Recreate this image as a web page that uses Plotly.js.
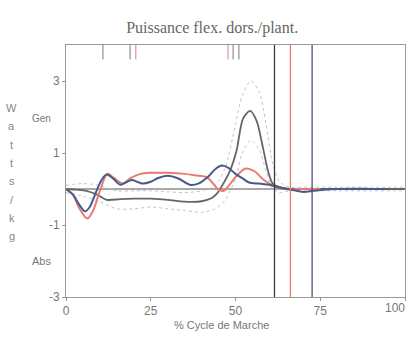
<!DOCTYPE html>
<html>
<head>
<meta charset="utf-8">
<script src="https://cdn.plot.ly/plotly-3.0.1.min.js"></script>
<style>html,body{margin:0;padding:0;background:#fff;}#chart{width:408px;height:337px;}</style>
</head>
<body>
<div id="chart"></div>
<script>
// Blue (patient, side 1)
const blueX = [0, 2, 4, 5.6, 7, 9, 10.5, 12, 14, 16, 18, 19.5, 21, 22.5, 25, 27, 30, 33, 36.5, 39, 42, 44, 46, 48, 50, 52, 54, 57, 60, 61.5, 64, 67, 70, 73, 76, 80, 85, 90, 95];
const blueY = [0, -0.15, -0.45, -0.62, -0.5, -0.05, 0.25, 0.4, 0.28, 0.12, 0.2, 0.25, 0.2, 0.15, 0.2, 0.3, 0.37, 0.3, 0.12, 0.15, 0.35, 0.55, 0.65, 0.58, 0.42, 0.3, 0.18, 0.15, 0.12, 0.08, 0.02, -0.03, -0.08, -0.05, -0.02, 0, 0.01, 0, 0];
// Red (patient, side 2)
const redX = [0, 2, 4, 6.3, 8, 10, 12.2, 14, 16.8, 19, 22, 25, 30, 35, 38, 41.5, 43.4, 45, 46.5, 48.5, 50.5, 53, 55.5, 58, 60, 62, 65, 70, 75];
const redY = [0, -0.15, -0.55, -0.82, -0.6, -0.05, 0.42, 0.32, 0.15, 0.3, 0.42, 0.45, 0.45, 0.42, 0.38, 0.33, 0.15, -0.02, -0.05, 0.15, 0.38, 0.57, 0.5, 0.28, 0.15, 0.05, 0, 0, 0];
// Normal mean
const normX = [0, 3, 6, 9, 12, 16, 20, 25, 30, 35, 40, 43, 44.5, 46.4, 48.4, 50.3, 52.2, 54.3, 56.2, 58.1, 59.6, 61, 63, 66, 70, 75, 80, 90, 100];
const normY = [0, -0.02, -0.05, -0.15, -0.3, -0.28, -0.27, -0.27, -0.3, -0.35, -0.34, -0.25, -0.13, 0.15, 0.51, 1.06, 1.95, 2.17, 1.9, 1.15, 0.5, 0.15, 0.05, 0, 0, 0, 0, 0, 0];
// Normal band (upper / lower)
const bandX = [0, 5, 10, 15, 20, 25, 30, 35, 40, 44, 47, 50, 52, 54.5, 57, 59, 61, 63, 66, 70, 80, 90, 100];
const bandUpper = [0.1, 0.15, 0.1, -0.05, -0.05, -0.05, -0.08, -0.1, -0.05, 0.1, 0.6, 1.8, 2.6, 3.0, 2.7, 1.8, 0.7, 0.2, 0.05, 0.05, 0.05, 0.05, 0.05];
const bandLower = [-0.1, -0.2, -0.35, -0.55, -0.55, -0.5, -0.55, -0.6, -0.65, -0.55, -0.3, 0.3, 1.0, 1.35, 1.1, 0.5, 0.0, -0.1, -0.05, -0.05, -0.05, -0.05, -0.05];
// Event markers
const toeOffX = [61.5, 66.2, 72.6];
const toeOffColors = ['#3a3a3a', '#e87a72', '#4a5578'];
const footEventX = [10.9, 18.9, 20.6, 47.8, 49.3, 51];
const footEventColors = ['#777', '#777', '#e87a72', '#e87a72', '#777', '#777'];
const xTicks = [0, 25, 50, 75, 100];
const yTicks = [-3, -1, 1, 3];
const yLetters = ['W', 'a', 't', 't', 's', '/', 'k', 'g'];

const traces = [
  {x: bandX, y: bandUpper, mode: 'lines', line: {color: '#c4c4c4', width: 1, dash: 'dot', shape: 'spline', smoothing: 0.8}, hoverinfo: 'skip'},
  {x: bandX, y: bandLower, mode: 'lines', line: {color: '#c4c4c4', width: 1, dash: 'dot', shape: 'spline', smoothing: 0.8}, hoverinfo: 'skip'},
  {x: normX, y: normY, mode: 'lines', line: {color: '#666666', width: 1.8, shape: 'spline', smoothing: 0.8}},
  {x: redX, y: redY, mode: 'lines', line: {color: '#e87a72', width: 2, shape: 'spline', smoothing: 0.9}},
  {x: blueX, y: blueY, mode: 'lines', line: {color: '#4a5a88', width: 2, shape: 'spline', smoothing: 0.9}}
];

const shapes = [
  {type: 'line', xref: 'x', yref: 'y', x0: 0, x1: 100, y0: 0, y1: 0, line: {color: '#555', width: 1.2}, layer: 'below'}
];
toeOffX.forEach((v, i) => shapes.push({type: 'line', xref: 'x', yref: 'y', x0: v, x1: v, y0: -3, y1: 4, line: {color: toeOffColors[i], width: 1.3}}));
footEventX.forEach((v, i) => shapes.push({type: 'line', xref: 'x', yref: 'y', x0: v, x1: v, y0: 4, y1: 3.6, line: {color: footEventColors[i], width: 1}}));

const annotations = [
  {text: 'Gen', xref: 'paper', yref: 'y', x: -0.072, y: 1.95, xanchor: 'center', showarrow: false, font: {family: 'Liberation Sans', size: 10, color: '#777'}},
  {text: 'Abs', xref: 'paper', yref: 'y', x: -0.072, y: -2.0, xanchor: 'center', showarrow: false, font: {family: 'Liberation Sans', size: 11, color: '#777'}},
  {text: '% Cycle de Marche', xref: 'paper', yref: 'paper', x: 0.46, y: -0.111, xanchor: 'center', yanchor: 'middle', showarrow: false, font: {family: 'Liberation Sans', size: 11, color: '#777'}},
  {text: String(xTicks[4]), xref: 'x', yref: 'paper', x: xTicks[4], xshift: 2, y: -0.045, xanchor: 'right', yanchor: 'middle', showarrow: false, font: {family: 'Liberation Sans', size: 12, color: '#777'}}
];
yLetters.forEach((ch, i) => annotations.push({text: ch, xref: 'paper', yref: 'paper', x: -0.16, y: (297 - (108 + i * 18.3)) / 252, xanchor: 'center', yanchor: 'middle', showarrow: false, font: {family: 'Liberation Sans', size: 11, color: '#888'}}));

const layout = {
  width: 408, height: 337,
  margin: {l: 66, r: 3, t: 45, b: 40},
  paper_bgcolor: '#fff', plot_bgcolor: '#fff',
  showlegend: false,
  title: {text: 'Puissance flex. dors./plant.', x: 0.52, xanchor: 'center', y: 0.92, yanchor: 'middle', font: {family: 'Liberation Serif', size: 16, color: '#666'}},
  xaxis: {range: [0, 100], tickvals: xTicks, ticktext: xTicks.map(String), showgrid: false, zeroline: false, showline: true, mirror: true, linecolor: '#999', linewidth: 1, ticks: 'outside', ticklen: 3, tickcolor: '#999', tickfont: {family: 'Liberation Sans', size: 12, color: '#777'}},
  yaxis: {range: [-3, 4], tickvals: yTicks, ticktext: yTicks.map(String), showgrid: false, zeroline: false, showline: true, mirror: true, linecolor: '#999', linewidth: 1, ticks: 'outside', ticklen: 3, tickcolor: '#999', tickfont: {family: 'Liberation Sans', size: 12, color: '#777'}},
  shapes: shapes,
  annotations: annotations
};

Plotly.newPlot('chart', traces, layout, {displayModeBar: false, staticPlot: true});
</script>
</body>
</html>
